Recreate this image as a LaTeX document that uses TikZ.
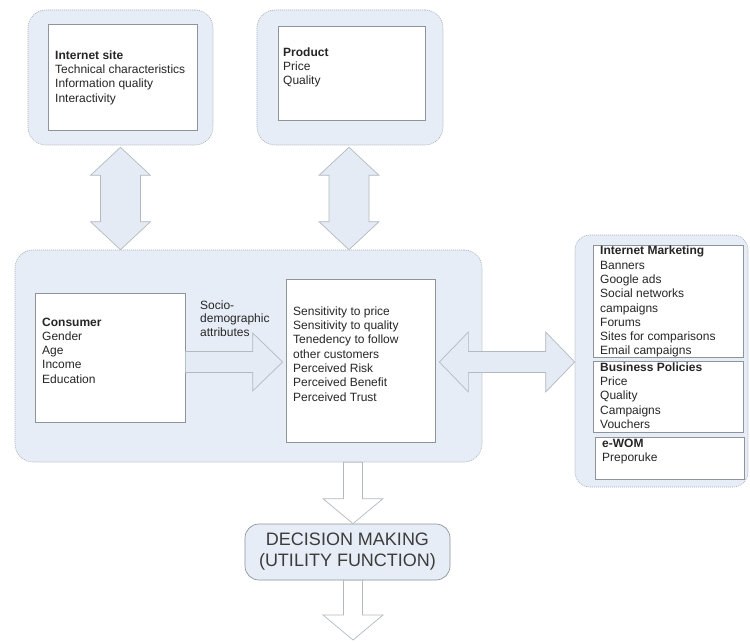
\documentclass[tikz,border=0pt]{standalone}
\usepackage{fontspec}
\setmainfont{Liberation Sans}
\usetikzlibrary{calc}
\definecolor{cfill}{HTML}{E7EDF6}
\definecolor{cline}{HTML}{A4AAB2}
\definecolor{afill}{HTML}{E4EBF5}
\definecolor{aline}{HTML}{B4B9BF}
\definecolor{bline}{HTML}{8E949A}
\definecolor{txt}{HTML}{262626}
\tikzset{
  container/.style={draw=cline, dash pattern=on 1pt off 1pt, fill=cfill, rounded corners=18pt, line width=0.6pt, inner sep=0pt},
  inbox/.style={draw=bline, fill=white, line width=0.7pt, inner sep=0pt},
  txtblock/.style={anchor=north west, inner sep=0pt, align=left, font=\fontsize{12}{14.3}\selectfont, text=txt},
  fatarrow/.style={draw=aline, fill=afill, line width=0.7pt, line join=miter},
  decbox/.style={draw=bline, fill=cfill, rounded corners=14pt, line width=0.7pt, inner sep=0pt, align=center, font=\fontsize{18}{21}\selectfont, text=txt!90}
}
\newcommand\vdarrow[2]{%
  \draw[fatarrow] (#1) -- ++(30,28) -- ++(-10,0) -- ($(#2)+(20,-28)$) -- ++(10,0) -- (#2)
    -- ++(-30,-28) -- ++(10,0) -- ($(#1)+(-20,28)$) -- ++(-10,0) -- cycle;}
\newcommand\hdarrow[2]{%
  \draw[fatarrow] (#1) -- ++(29,-30) -- ++(0,19.5) -- ($(#2)+(-29,-10.5)$) -- ++(0,-19.5) -- (#2)
    -- ++(-29,30) -- ++(0,-19.5) -- ($(#1)+(29,10.5)$) -- ++(0,19.5) -- cycle;}
\newcommand\sdarrow[2]{%
  \draw[fatarrow, fill=white] ($(#1)+(-9.5,0)$) -- ($(#2)+(-9.5,-25)$) -- ++(-20.5,0) -- (#2)
    -- ++(30,-25) -- ++(-20.5,0) -- ($(#1)+(9.5,0)$) -- cycle;}
\begin{document}
\begin{tikzpicture}[x=1pt,y=-1pt]
\useasboundingbox[fill=white] (0,0) rectangle (750,642);

% containers
\node[container, minimum width=185pt, minimum height=135pt] (sitec) at (120.5,77.5) {};
\node[container, minimum width=186pt, minimum height=135pt] (prodc) at (350,77.5) {};
\node[container, minimum width=467pt, minimum height=212pt] (mainc) at (248.5,356) {};
\node[container, rounded corners=15pt, minimum width=173pt, minimum height=252pt] (rightc) at (661.5,361) {};

% inner boxes
\node[inbox, minimum width=149pt, minimum height=106pt] (site) at (122.5,77) {};
\node[inbox, minimum width=147pt, minimum height=94pt] (prod) at (351.5,73) {};
\node[inbox, minimum width=150pt, minimum height=129pt] (cons) at (110,357.5) {};
\node[inbox, minimum width=149pt, minimum height=163pt] (attr) at (360.5,360.5) {};
\node[inbox, minimum width=150pt, minimum height=112pt] (im) at (668,301) {};
\node[inbox, minimum width=150pt, minimum height=71pt] (bp) at (668,396.5) {};
\node[inbox, minimum width=149pt, minimum height=42pt] (ewom) at (669.5,458) {};

% texts
\node[txtblock] (sitetxt) at (55,50.5) {\textbf{Internet site}\\Technical characteristics\\Information quality\\Interactivity};
\node[txtblock] (prodtxt) at (283,47.5) {\textbf{Product}\\Price\\Quality};
\node[txtblock] (constxt) at (42,317.5) {\textbf{Consumer}\\Gender\\Age\\Income\\Education};
\node[txtblock] (attrtxt) at (293,306.5) {Sensitivity to price\\Sensitivity to quality\\Tenedency to follow\\other customers\\Perceived Risk\\Perceived Benefit\\Perceived Trust};
\node[txtblock, font=\fontsize{12}{13.6}\selectfont] (socio) at (200,300.5) {Socio-\\demographic\\attributes};
\node[txtblock] (imtxt) at (600,246) {\textbf{Internet Marketing}\\Banners\\Google ads\\Social networks\\campaigns\\Forums\\Sites for comparisons\\Email campaigns};
\node[txtblock] (bptxt) at (600,362.5) {\textbf{Business Policies}\\Price\\Quality\\Campaigns\\Vouchers};
\node[txtblock] (ewomtxt) at (602,438.5) {\textbf{e-WOM}\\Preporuke};

% decision
\node[decbox, minimum width=205pt, minimum height=56pt] (dec) at (347.5,552) {DECISION MAKING\\(UTILITY FUNCTION)};

% connectors
\coordinate (a1t) at ($(sitec.south)+(0,2)$);
\coordinate (a1b) at (a1t |- mainc.north);
\vdarrow{a1t}{a1b}
\coordinate (a2t) at ($(prodc.south)+(-1,2)$);
\coordinate (a2b) at (a2t |- mainc.north);
\vdarrow{a2t}{a2b}

\coordinate (a3s) at (cons.east |- 0,362);
\coordinate (a3t) at ($(attr.west |- 0,362)+(-3,0)$);
\draw[fatarrow] ($(a3s)+(0,-10.5)$) -- ($(a3t)+(-30,-10.5)$) -- ++(0,-18.5) -- (a3t)
   -- ++(-30,29) -- ++(0,-18.5) -- ($(a3s)+(0,10.5)$) -- cycle;

\coordinate (a4l) at ($(attr.east |- 0,362)+(4,0)$);
\coordinate (a4r) at (rightc.west |- 0,362);
\hdarrow{a4l}{a4r}

\coordinate (a5s) at (353,0 |- mainc.south);
\coordinate (a5t) at (353,0 |- dec.north);
\sdarrow{a5s}{a5t}
\coordinate (a6s) at (353,0 |- dec.south);
\coordinate (a6t) at (353,640);
\sdarrow{a6s}{a6t}
\end{tikzpicture}
\end{document}
